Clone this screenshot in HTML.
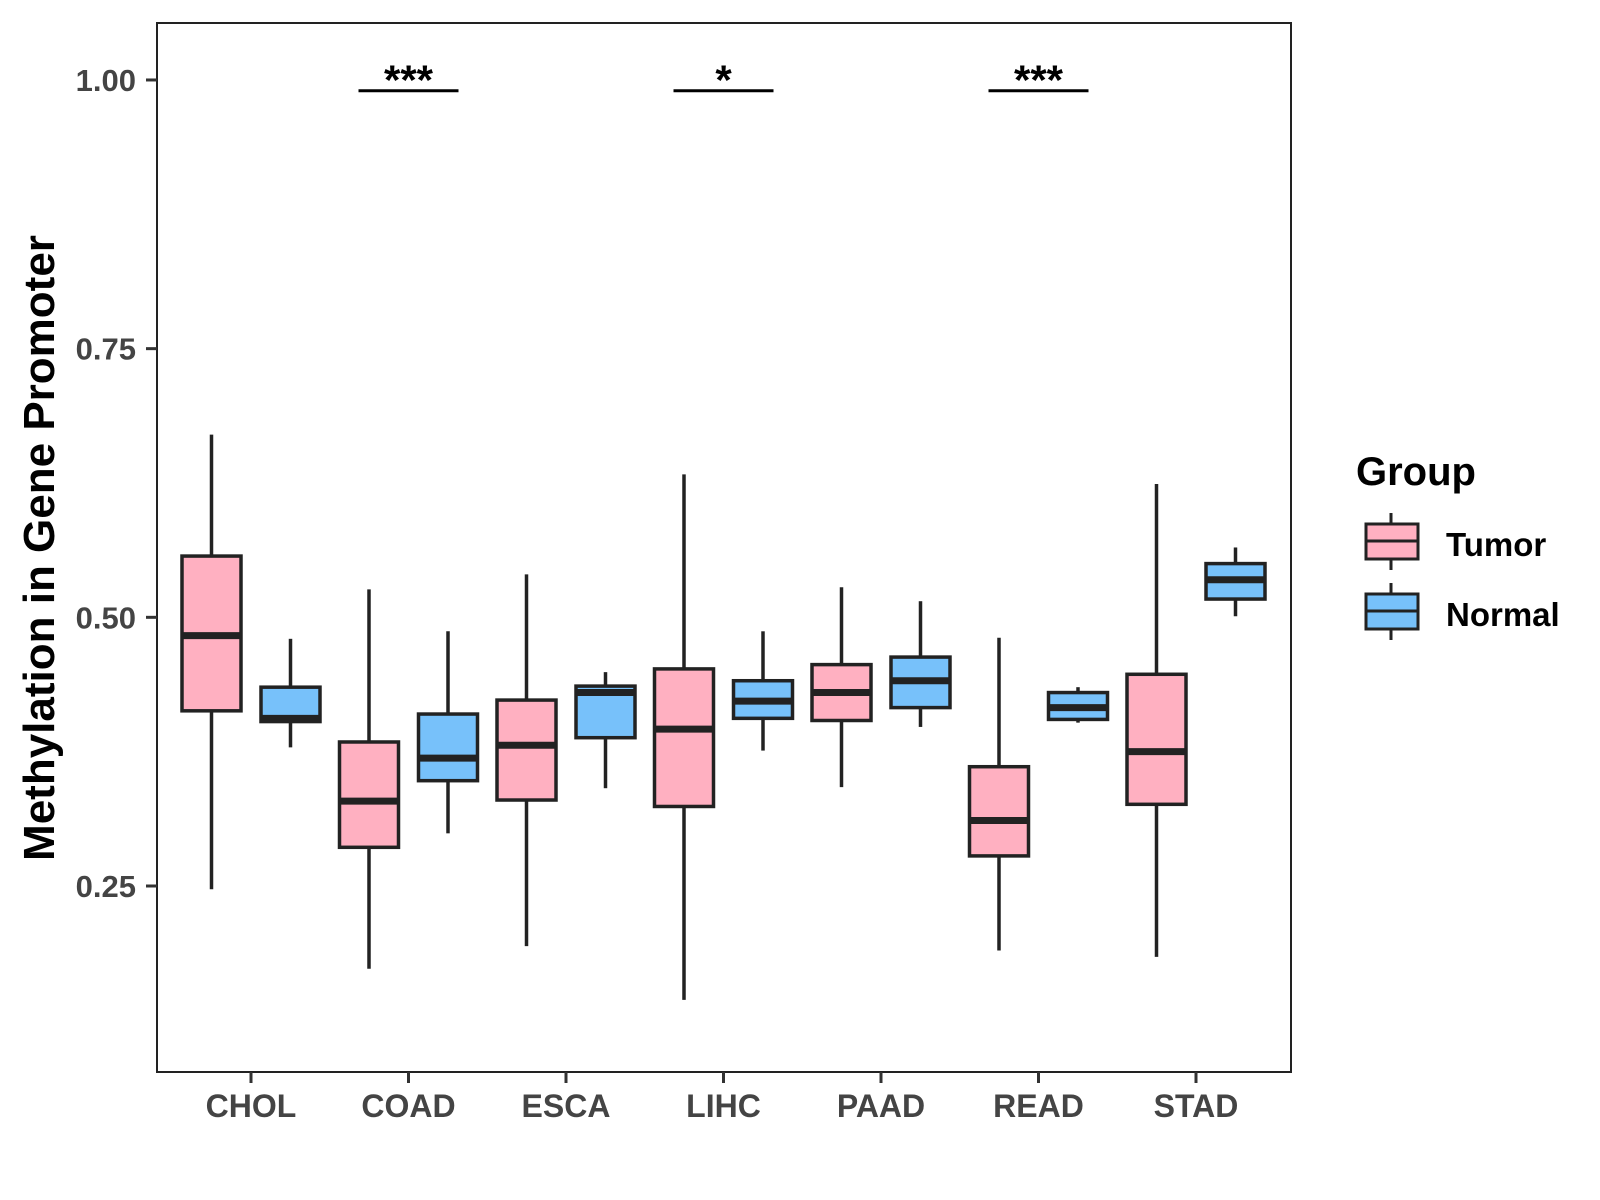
<!DOCTYPE html>
<html><head><meta charset="utf-8"><style>
html,body{margin:0;padding:0;background:#fff;}
svg{display:block;font-family:"Liberation Sans",Arial,sans-serif;}
</style></head><body>
<svg id="chart" width="1600" height="1200" viewBox="0 0 1600 1200">
<rect width="1600" height="1200" fill="#fff"/>
<g id="plot"></g>
<rect x="157" y="23" width="1134" height="1049" fill="none" stroke="#222" stroke-width="2"/>
<text transform="translate(54,548) rotate(-90)" text-anchor="middle" font-size="44" font-weight="bold" fill="#000">Methylation in Gene Promoter</text>
<g>
<text x="1356" y="485" font-size="40" font-weight="bold">Group</text>
<g>
<line x1="1391" y1="513" x2="1391" y2="570" stroke="#222" stroke-width="3"/>
<rect x="1366" y="524" width="52" height="35" fill="#FFB0C1" stroke="#222" stroke-width="3"/>
<line x1="1366" y1="541" x2="1418" y2="541" stroke="#222" stroke-width="3"/>
<text x="1446" y="556" font-size="33" font-weight="bold">Tumor</text>
</g>
<g>
<line x1="1391" y1="583" x2="1391" y2="640" stroke="#222" stroke-width="3"/>
<rect x="1366" y="594" width="52" height="35" fill="#77C1FA" stroke="#222" stroke-width="3"/>
<line x1="1366" y1="611" x2="1418" y2="611" stroke="#222" stroke-width="3"/>
<text x="1446" y="626" font-size="33" font-weight="bold">Normal</text>
</g>
</g>
</svg>
<script>
const categories = ["CHOL","COAD","ESCA","LIHC","PAAD","READ","STAD"];
// [lowerWhisker, q1, median, q3, upperWhisker]
const tumorStats = [
  [0.247,0.413,0.483,0.557,0.670],
  [0.173,0.286,0.329,0.384,0.526],
  [0.194,0.330,0.381,0.423,0.540],
  [0.144,0.324,0.396,0.452,0.633],
  [0.342,0.404,0.430,0.456,0.528],
  [0.190,0.278,0.311,0.361,0.481],
  [0.184,0.326,0.375,0.447,0.624]
];
const normalStats = [
  [0.379,0.403,0.406,0.435,0.480],
  [0.299,0.348,0.369,0.410,0.487],
  [0.341,0.388,0.430,0.436,0.449],
  [0.376,0.406,0.422,0.441,0.487],
  [0.398,0.416,0.441,0.463,0.515],
  [0.402,0.405,0.416,0.430,0.435],
  [0.501,0.517,0.535,0.550,0.565]
];
const yTicks = [0.25,0.50,0.75,1.00];
const yTickLabels = ["0.25","0.50","0.75","1.00"];
const sigCategories = ["COAD","LIHC","READ"];
const sigLabels = ["***","*","***"];
const sigLevel = 0.99;

const NS="http://www.w3.org/2000/svg";
const svg=document.getElementById('chart');
const plot=document.getElementById('plot');
const y0=886, pxPerUnit=1074.7;
function yScale(v){return y0-(v-0.25)*pxPerUnit;}
function xScale(i){return 251+i*157.5;}
function mk(tag,attrs,parent){const e=document.createElementNS(NS,tag);for(const k in attrs)e.setAttribute(k,attrs[k]);(parent||plot).appendChild(e);return e;}

yTicks.forEach((t,i)=>{
  const y=yScale(t);
  const tk=mk('line',{x1:146,x2:157,y1:y,y2:y,stroke:'#333','stroke-width':3},svg);
  
  
  const tx=mk('text',{x:136,y:y+11,'text-anchor':'end','font-size':31,'font-weight':'bold',fill:'#444'},svg);
  tx.textContent=yTickLabels[i];
  
  
});
categories.forEach((c,i)=>{
  const x=xScale(i);
  const tk=mk('line',{x1:x,x2:x,y1:1072,y2:1083,stroke:'#333','stroke-width':3},svg);
  
  
  const tx=mk('text',{x:x,y:1117,'text-anchor':'middle','font-size':32,'font-weight':'bold',fill:'#444'},svg);
  tx.textContent=c;
  
  
});
function drawBox(cx,s,fill,name){
  const g=mk('g',{});
  
  
  const hw=29.5;
  mk('line',{x1:cx,x2:cx,y1:yScale(s[4]),y2:yScale(s[3]),stroke:'#222','stroke-width':3.5},g);
  mk('line',{x1:cx,x2:cx,y1:yScale(s[1]),y2:yScale(s[0]),stroke:'#222','stroke-width':3.5},g);
  mk('rect',{x:cx-hw,y:yScale(s[3]),width:hw*2,height:yScale(s[1])-yScale(s[3]),fill:fill,stroke:'#222','stroke-width':3.5},g);
  mk('line',{x1:cx-hw,x2:cx+hw,y1:yScale(s[2]),y2:yScale(s[2]),stroke:'#222','stroke-width':7},g);
}
categories.forEach((c,i)=>{
  drawBox(xScale(i)-39.5,tumorStats[i],'#FFB0C1','box-tumor-'+c.toLowerCase());
  drawBox(xScale(i)+39.5,normalStats[i],'#77C1FA','box-normal-'+c.toLowerCase());
});
sigCategories.forEach((c,k)=>{
  const i=categories.indexOf(c), x=xScale(i), y=yScale(sigLevel);
  const ln=mk('line',{x1:x-50,x2:x+50,y1:y,y2:y,stroke:'#000','stroke-width':3});
  
  
  const tx=mk('text',{x:x,y:y+4,'text-anchor':'middle','font-size':42,'font-weight':'bold',fill:'#000'});
  tx.textContent=sigLabels[k];
  
  
});
</script>
</body></html>
